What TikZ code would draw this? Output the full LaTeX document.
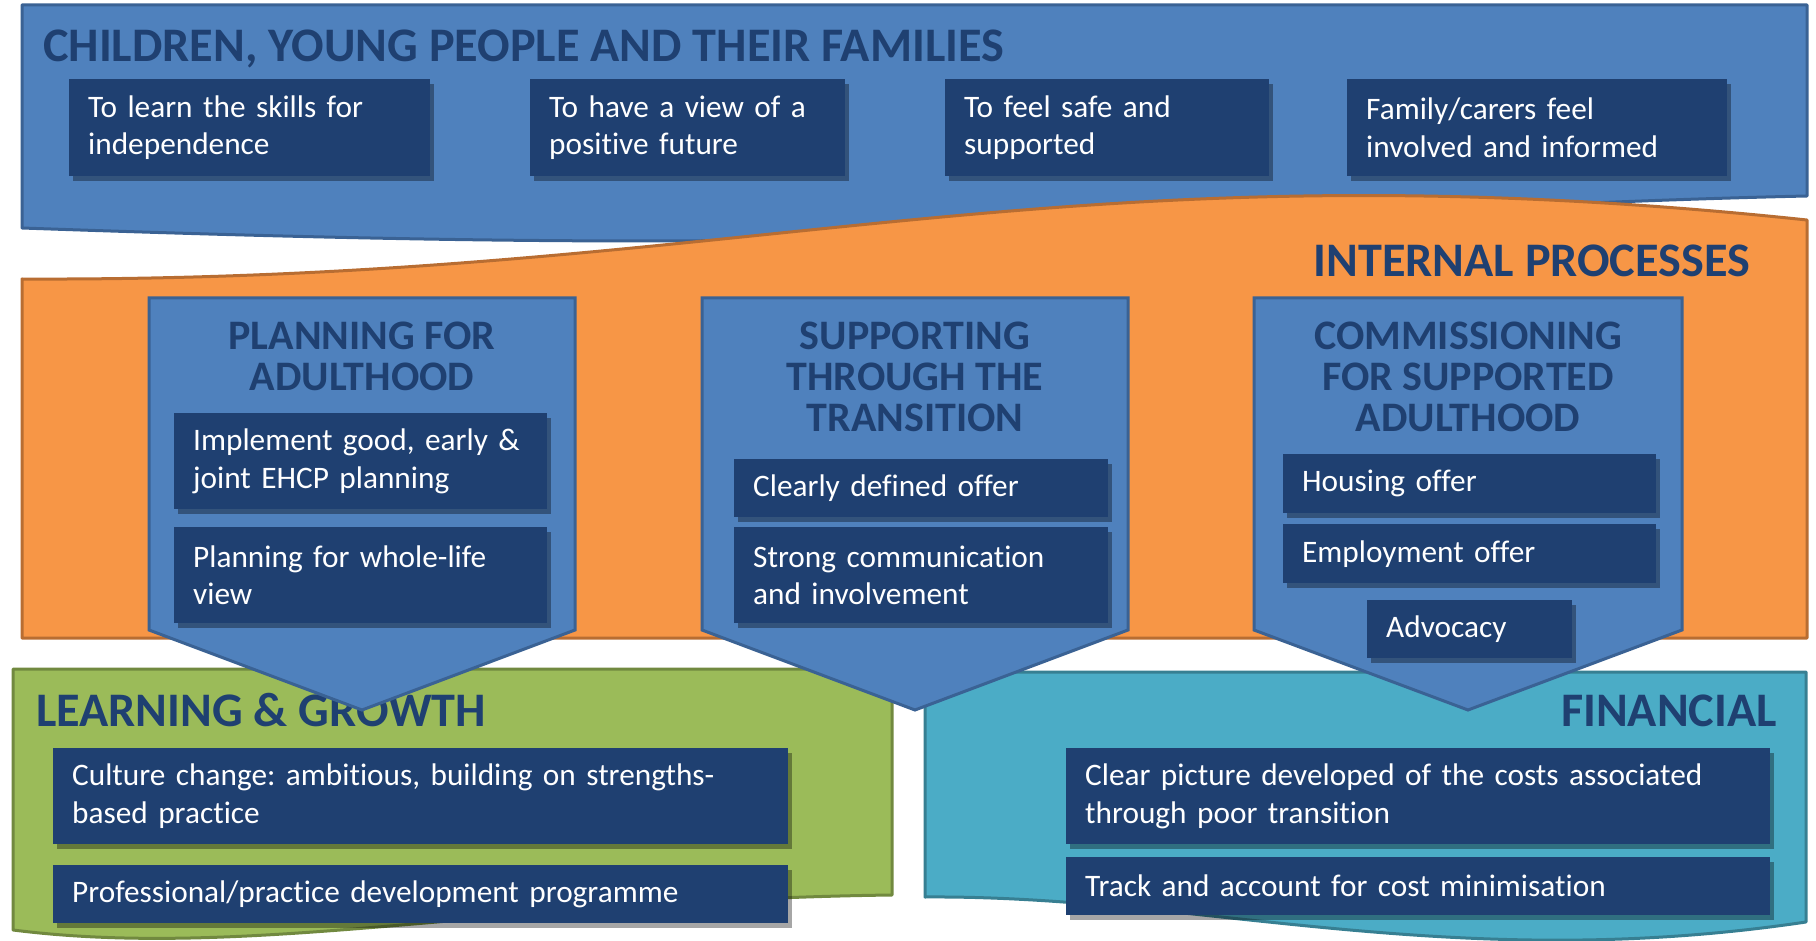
\documentclass[tikz,border=0pt]{standalone}
\usepackage{fontspec}
\setmainfont{Carlito}[Ligatures=NoCommon]
\usepackage{tikz}
\usetikzlibrary{shadows}

\definecolor{bleu}{HTML}{4F81BD}
\definecolor{bleuBord}{HTML}{3A6294}
\definecolor{orangeIP}{HTML}{F79646}
\definecolor{orangeBord}{HTML}{B86D32}
\definecolor{vert}{HTML}{9BBB59}
\definecolor{vertBord}{HTML}{71893F}
\definecolor{turquoise}{HTML}{4BACC6}
\definecolor{turquoiseBord}{HTML}{377F92}
\definecolor{marine}{HTML}{1F4071}

\frenchspacing

\tikzset{
	bandeau/.style={line width=3pt, line join=round},
	chevron/.style={fill=bleu, draw=bleuBord, line width=3pt, line join=miter},
	titre/.style={text=marine, inner sep=0pt, font=\fontsize{48.2}{50}\selectfont\bfseries},
	titreChevron/.style={text=marine, inner sep=0pt, anchor=north, align=center, font=\fontsize{42}{41}\selectfont\bfseries},
	case/.style={fill=marine, text=white, anchor=north west, align=left, inner xsep=19pt, inner ysep=0pt,
		font=\fontsize{31.3}{37.5}\selectfont,
		drop shadow={shadow xshift=4pt, shadow yshift=-5pt, opacity=0.35, fill=black}}
}

% case : nom, x gauche, y haut, x droit, y bas, texte
\newcommand{\caseTexte}[6]{%
	\pgfmathsetmacro{\largeurCase}{#4-#2-38}%
	\pgfmathsetmacro{\hauteurCase}{#5-#3}%
	\node[case, text width=\largeurCase pt, minimum height=\hauteurCase pt] (#1) at (#2,#3) {#6};%
}

\begin{document}
\begin{tikzpicture}[x=1pt,y=-1pt]
\useasboundingbox (0,0) rectangle (1816,941);

%Bandeaux
\filldraw[bandeau, fill=bleu, draw=bleuBord] (22,5) -- (1807,5) -- (1807,196)
	.. controls (1400,205) and (1000,241) .. (650,241)
	.. controls (450,241) and (250,236) .. (22,228) -- cycle;
\filldraw[bandeau, fill=orangeIP, draw=orangeBord] (22,279)
	.. controls (750,282) and (1050,140) .. (1807,220) -- (1807,638) -- (22,638) -- cycle;
\filldraw[bandeau, fill=vert, draw=vertBord] (13,669) -- (892,669) -- (892,895)
	.. controls (500,900) and (250,960) .. (13,930) -- cycle;
\filldraw[bandeau, fill=turquoise, draw=turquoiseBord] (925,672) -- (1806,672) -- (1806,922)
	.. controls (1450,975) and (1200,895) .. (925,897) -- cycle;

%Titres des bandeaux
\node[titre, anchor=base west] (titreFamilles) at (43,62) {CHILDREN, YOUNG PEOPLE AND THEIR FAMILIES};
\node[titre, anchor=base east] (titreInterne) at (1750,277) {INTERNAL PROCESSES};
\node[titre, anchor=base west] (titreCroissance) at (36,726) {LEARNING \& GROWTH};
\node[titre, anchor=base east] (titreFinancier) at (1777,726) {FINANCIAL};

%Chevrons
\foreach \xg/\xd in {149/575, 702/1128, 1254/1682}
	\filldraw[chevron] (\xg,298) -- (\xd,298) -- (\xd,630) -- ({(\xg+\xd)/2},710) -- (\xg,630) -- cycle;

\node[titreChevron] (tPlanif) at (362,322) {PLANNING FOR\\ADULTHOOD};
\node[titreChevron] (tSoutien) at (915,322) {SUPPORTING\\THROUGH THE\\TRANSITION};
\node[titreChevron] (tCommande) at (1468,322) {COMMISSIONING\\FOR SUPPORTED\\ADULTHOOD};

%Cases du haut
\caseTexte{independance}{69}{79}{430}{176}{To learn the skills for\\independence}
\caseTexte{avenir}{530}{79}{845}{176}{To have a view of a\\positive future}
\caseTexte{securite}{945}{79}{1269}{176}{To feel safe and\\supported}
\caseTexte{familles}{1347}{79}{1727}{176}{Family/carers feel\\involved and informed}

%Cases des chevrons
\caseTexte{ehcp}{174}{413}{547}{509}{Implement good, early \&\\joint EHCP planning}
\caseTexte{vie}{174}{527}{547}{623}{Planning for whole-life\\view}
\caseTexte{offre}{734}{459}{1108}{517}{Clearly defined offer}
\caseTexte{communication}{734}{527}{1108}{623}{Strong communication\\and involvement}
\caseTexte{logement}{1283}{454}{1656}{513}{Housing offer}
\caseTexte{emploi}{1283}{524}{1656}{583}{Employment offer}
\caseTexte{plaidoyer}{1367}{600}{1572}{658}{Advocacy}

%Cases du bas
\caseTexte{culture}{53}{748}{788}{844}{Culture change: ambitious, building on strengths-\\based practice}
\caseTexte{formation}{53}{865}{788}{923}{Professional/practice development programme}
\caseTexte{couts}{1066}{748}{1770}{844}{Clear picture developed of the costs associated\\through poor transition}
\caseTexte{suivi}{1066}{857}{1770}{915}{Track and account for cost minimisation}

\end{tikzpicture}
\end{document}
